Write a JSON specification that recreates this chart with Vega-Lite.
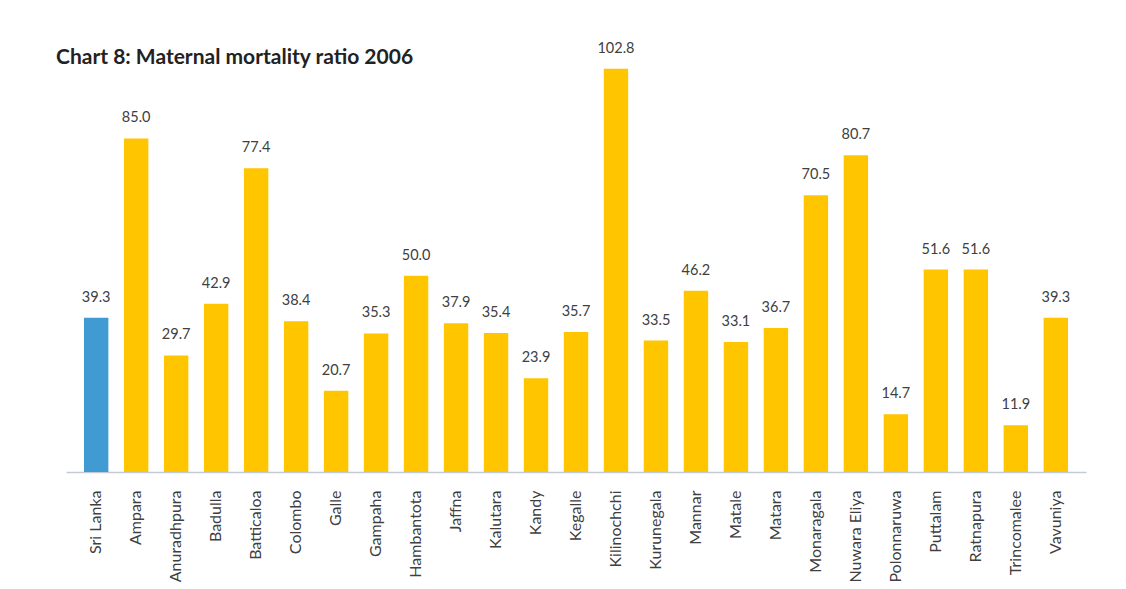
{
  "$schema": "https://vega.github.io/schema/vega-lite/v6.json",
  "autosize": {"type": "none"},
  "padding": {"left": 66, "top": 60, "right": 40, "bottom": 117},
  "width": 1020,
  "height": 412,
  "background": "white",
  "title": {
    "text": "Chart 8: Maternal mortality ratio 2006",
    "anchor": "start",
    "frame": "group",
    "dx": -10,
    "dy": 42,
    "offset": -2,
    "baseline": "alphabetic",
    "font": "Lato",
    "fontSize": 21,
    "fontWeight": "bold",
    "color": "#222222"
  },
  "config": {"view": {"stroke": null}},
  "data": {
    "values": [
      {"area": "Sri Lanka", "level": "National", "mmr": 39.3},
      {"area": "Ampara", "level": "District", "mmr": 85.0},
      {"area": "Anuradhpura", "level": "District", "mmr": 29.7},
      {"area": "Badulla", "level": "District", "mmr": 42.9},
      {"area": "Batticaloa", "level": "District", "mmr": 77.4},
      {"area": "Colombo", "level": "District", "mmr": 38.4},
      {"area": "Galle", "level": "District", "mmr": 20.7},
      {"area": "Gampaha", "level": "District", "mmr": 35.3},
      {"area": "Hambantota", "level": "District", "mmr": 50.0},
      {"area": "Jaffna", "level": "District", "mmr": 37.9},
      {"area": "Kalutara", "level": "District", "mmr": 35.4},
      {"area": "Kandy", "level": "District", "mmr": 23.9},
      {"area": "Kegalle", "level": "District", "mmr": 35.7},
      {"area": "Kilinochchi", "level": "District", "mmr": 102.8},
      {"area": "Kurunegala", "level": "District", "mmr": 33.5},
      {"area": "Mannar", "level": "District", "mmr": 46.2},
      {"area": "Matale", "level": "District", "mmr": 33.1},
      {"area": "Matara", "level": "District", "mmr": 36.7},
      {"area": "Monaragala", "level": "District", "mmr": 70.5},
      {"area": "Mullaitivu", "level": "District", "mmr": null},
      {"area": "Nuwara Eliya", "level": "District", "mmr": 80.7},
      {"area": "Polonnaruwa", "level": "District", "mmr": 14.7},
      {"area": "Puttalam", "level": "District", "mmr": 51.6},
      {"area": "Ratnapura", "level": "District", "mmr": 51.6},
      {"area": "Trincomalee", "level": "District", "mmr": 11.9},
      {"area": "Vavuniya", "level": "District", "mmr": 39.3}
    ]
  },
  "encoding": {
    "x": {
      "field": "area",
      "type": "nominal",
      "sort": null,
      "scale": {"paddingInner": 0.39, "paddingOuter": 0.45},
      "axis": {
        "title": null,
        "labelAngle": -90,
        "labelAlign": "right",
        "labelBaseline": "middle",
        "labelFont": "Lato",
        "labelFontSize": 16,
        "labelColor": "#404040",
        "labelPadding": 18,
        "ticks": false,
        "domainColor": "#c4cad6",
        "domainWidth": 1.5,
        "grid": false
      }
    },
    "y": {
      "field": "mmr",
      "type": "quantitative",
      "scale": {"domain": [0, 105], "nice": false},
      "axis": null
    }
  },
  "layer": [
    {
      "mark": {"type": "bar"},
      "encoding": {
        "color": {
          "field": "level",
          "type": "nominal",
          "scale": {"domain": ["National", "District"], "range": ["#3f9bd2", "#ffc600"]},
          "legend": null
        }
      }
    },
    {
      "mark": {"type": "text", "dy": -20, "font": "Lato", "fontSize": 14.5, "color": "#404040"},
      "encoding": {
        "text": {"field": "mmr", "type": "quantitative", "format": ".1f"}
      }
    }
  ]
}
